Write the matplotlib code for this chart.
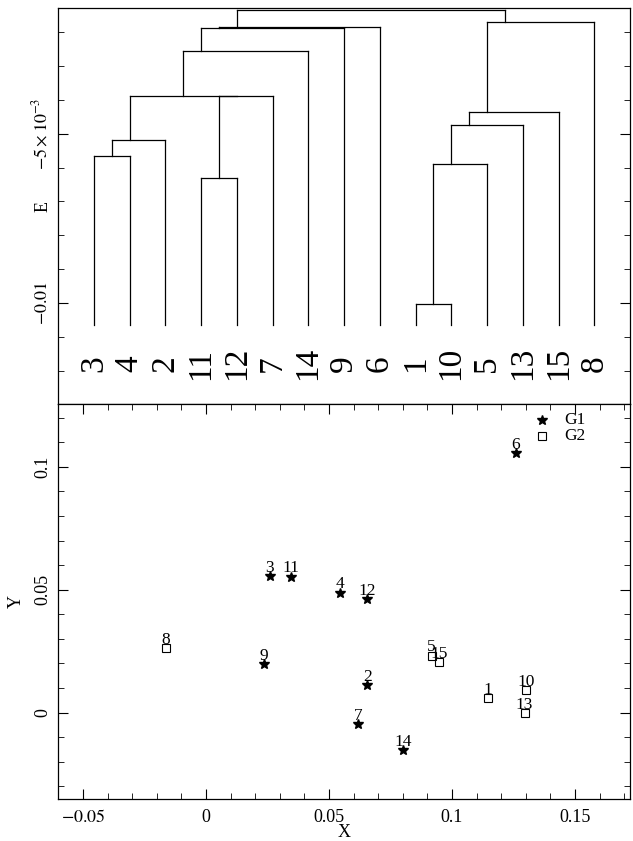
import matplotlib
matplotlib.use("Agg")
import matplotlib.pyplot as plt
from matplotlib.ticker import MultipleLocator, FixedLocator, FixedFormatter
import numpy as np

plt.rcParams['font.family'] = ['Liberation Serif', 'DejaVu Serif']
plt.rcParams['mathtext.fontset'] = 'stix'

# ---------------- dendrogram data ----------------
leaf_order = ['3', '4', '2', '11', '12', '7', '14', '9', '6', '1', '10', '5', '13', '15', '8']
leaf_base = -0.01065
merge_left = ['3', 'c0', '11', 'c2', 'c1', 'c4', 'c5', 'c6', '1', 'c8', 'c9', 'c10', 'c11', 'c7']
merge_right = ['4', '2', '12', '7', 'c3', '14', '9', '6', '10', '5', '13', '15', '8', 'c12']
merge_height = [-0.00567, -0.00518, -0.00631, -0.00388, -0.00387, -0.00254, -0.00187,
                -0.00183, -0.01004, -0.00590, -0.00474, -0.00437, -0.00168, -0.00134]

# ---------------- scatter data ----------------
pt_names = ['1', '2', '3', '4', '5', '6', '7', '8', '9', '10', '11', '12', '13', '14', '15']
pt_x = [0.1146, 0.0656, 0.0260, 0.0543, 0.0917, 0.1259, 0.0619, -0.0164, 0.0236,
        0.1300, 0.0344, 0.0656, 0.1295, 0.0802, 0.0947]
pt_y = [0.0059, 0.0113, 0.0557, 0.0488, 0.0232, 0.1054, -0.0047, 0.0262, 0.0198,
        0.0092, 0.0553, 0.0462, -0.0003, -0.0152, 0.0207]
pt_group = [2, 1, 1, 1, 2, 1, 1, 2, 1, 2, 1, 1, 2, 1, 2]
legend_names = ['G1', 'G2']
legend_x = [0.1367, 0.1367]
legend_y = [0.1190, 0.1126]

W, H = 633, 841
fig = plt.figure(figsize=(W / 100, H / 100), dpi=100)

def ax_rect(l, t, r, b):
    return [l / W, 1 - b / H, (r - l) / W, (b - t) / H]

# ---------------- top panel: dendrogram ----------------
ax1 = fig.add_axes(ax_rect(58, 8, 630, 404))
pos = {}
hgt = {}
members = {}
for i, name in enumerate(leaf_order):
    pos[name] = i + 1
    hgt[name] = leaf_base
    members[name] = [i + 1]
for k, (a, b, h) in enumerate(zip(merge_left, merge_right, merge_height)):
    for c in (a, b):
        ax1.plot([pos[c], pos[c]], [hgt[c], h], color='black', lw=0.9)
    ax1.plot([pos[a], pos[b]], [h, h], color='black', lw=0.9)
    cid = 'c%d' % k
    members[cid] = members[a] + members[b]
    pos[cid] = float(np.mean(members[cid]))
    hgt[cid] = h

for i, name in enumerate(leaf_order):
    ax1.text(i + 1, -0.01180, name, rotation=90, ha='center', va='center',
             fontsize=24, color='black')

ax1.set_xlim(0, 16)
ax1.set_ylim(-0.01299, -0.00128)
ax1.set_xticks([])
ax1.yaxis.set_major_locator(FixedLocator([-0.01, -0.005]))
ax1.yaxis.set_major_formatter(FixedFormatter([r'$-0.01$', r'$-5\times10^{-3}$']))
ax1.yaxis.set_minor_locator(MultipleLocator(0.001))
ax1.tick_params(axis='y', which='both', direction='in', left=True, right=True)
ax1.tick_params(axis='y', which='major', length=7, labelsize=13, pad=5, labelrotation=90)
ax1.tick_params(axis='y', which='minor', length=4)
for lab in ax1.get_yticklabels():
    lab.set_va('center')
ax1.set_ylabel('E', fontsize=13, va='center')
ax1.yaxis.set_label_coords(-0.026, 0.5)
for sp in ax1.spines.values():
    sp.set_linewidth(0.9)

# ---------------- bottom panel: scatter ----------------
ax2 = fig.add_axes(ax_rect(58, 404, 630, 799))
for n, x, y, g in zip(pt_names, pt_x, pt_y, pt_group):
    if g == 1:
        ax2.plot(x, y, marker='*', ms=7, color='black', mec='black', ls='none')
    else:
        ax2.plot(x, y, marker='s', ms=6, mfc='none', mec='black', mew=0.8, ls='none')
    ax2.annotate(n, (x, y), xytext=(0, 3), textcoords='offset points',
                 ha='center', va='baseline', fontsize=12.5)
for k, (n, x, y) in enumerate(zip(legend_names, legend_x, legend_y)):
    if k == 0:
        ax2.plot(x, y, marker='*', ms=7, color='black', ls='none')
    else:
        ax2.plot(x, y, marker='s', ms=6, mfc='none', mec='black', mew=0.8, ls='none')
    ax2.annotate(n, (x, y), xytext=(16, 0), textcoords='offset points',
                 ha='left', va='center', fontsize=12.5)

ax2.set_xlim(-0.0602, 0.1724)
ax2.set_ylim(-0.0351, 0.1255)
ax2.xaxis.set_major_locator(FixedLocator([-0.05, 0, 0.05, 0.1, 0.15]))
ax2.xaxis.set_major_formatter(FixedFormatter([r'$-0.05$', '0', '0.05', '0.1', '0.15']))
ax2.xaxis.set_minor_locator(MultipleLocator(0.01))
ax2.yaxis.set_major_locator(FixedLocator([0, 0.05, 0.1]))
ax2.yaxis.set_major_formatter(FixedFormatter(['0', '0.05', '0.1']))
ax2.yaxis.set_minor_locator(MultipleLocator(0.01))
ax2.tick_params(which='both', direction='in', top=True, right=True)
ax2.tick_params(which='major', length=7, labelsize=13)
ax2.tick_params(which='minor', length=4)
ax2.tick_params(axis='x', pad=7)
ax2.tick_params(axis='y', pad=5, labelrotation=90)
for lab in ax2.get_yticklabels():
    lab.set_va('center')
ax2.set_xlabel('X', fontsize=13, va='center')
ax2.xaxis.set_label_coords(0.5, -0.086)
ax2.set_ylabel('Y', fontsize=13, va='center')
ax2.yaxis.set_label_coords(-0.073, 0.5)
for sp in ax2.spines.values():
    sp.set_linewidth(0.9)

fig.savefig('out.png', dpi=100)
